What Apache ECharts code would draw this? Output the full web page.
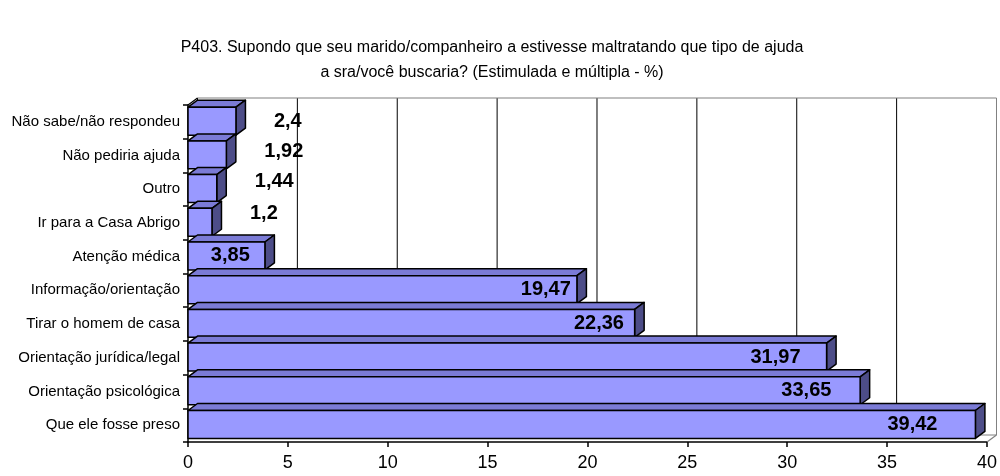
<!DOCTYPE html>
<html>
<head>
<meta charset="utf-8">
<script src="https://cdn.jsdelivr.net/npm/echarts@6/dist/echarts.min.js"></script>
<style>
  html, body { margin: 0; padding: 0; background: #fff; }
  #chart { width: 1000px; height: 476px; }
</style>
</head>
<body>
<div id="chart"></div>
<script>
const categories = [
  'Não sabe/não respondeu',
  'Não pediria ajuda',
  'Outro',
  'Ir para a Casa Abrigo',
  'Atenção médica',
  'Informação/orientação',
  'Tirar o homem de casa',
  'Orientação jurídica/legal',
  'Orientação psicológica',
  'Que ele fosse preso'
]
const values = [2.4, 1.92, 1.44, 1.2, 3.85, 19.47, 22.36, 31.97, 33.65, 39.42]
const xTicks = [0, 5, 10, 15, 20, 25, 30, 35, 40]

const FONT = '"Liberation Sans", Arial, sans-serif'
// 3d depth of the bars / back wall
const DX = 9.5
const DY = 7

const chart = echarts.init(document.getElementById('chart'))

function renderFrame(params, api) {
  const cs = params.coordSys
  const x0 = cs.x, y0 = cs.y, x1 = cs.x + cs.width, y1 = cs.y + cs.height
  const children = []
  // back wall gridlines
  xTicks.forEach(function (t) {
    const x = api.coord([t, 0])[0] + DX
    children.push({
      type: 'line',
      shape: { x1: x, y1: y0 - DY, x2: x, y2: y1 - DY },
      style: { stroke: t === 40 ? '#808080' : '#000', lineWidth: 1 }
    })
  })
  // wall top and floor back edge
  children.push({ type: 'line', shape: { x1: x0 + DX, y1: y0 - DY, x2: x1 + DX, y2: y0 - DY }, style: { stroke: '#808080', lineWidth: 1.2 } })
  children.push({ type: 'line', shape: { x1: x0 + DX, y1: y1 - DY, x2: x1 + DX, y2: y1 - DY }, style: { stroke: '#808080', lineWidth: 1 } })
  // corners
  children.push({ type: 'line', shape: { x1: x0, y1: y0, x2: x0 + DX, y2: y0 - DY }, style: { stroke: '#000', lineWidth: 1.2 } })
  children.push({ type: 'line', shape: { x1: x1, y1: y1, x2: x1 + DX, y2: y1 - DY }, style: { stroke: '#808080', lineWidth: 1.2 } })
  return { type: 'group', children: children }
}

function renderBar(params, api) {
  const v = api.value(0)
  const idx = api.value(1)
  const start = api.coord([0, idx])
  const end = api.coord([v, idx])
  const band = api.size([0, 1])[1]
  const h = band * 0.83
  const yc = start[1] - band * 0.02
  const top = yc - h / 2
  const bot = yc + h / 2
  const xs = start[0]
  const xe = end[0]
  const stroke = { stroke: '#000', lineWidth: 1.5, lineJoin: 'round' }

  // label placement like the original
  let lx, ly = yc, align
  if (v >= 10) {
    lx = xs + (xe - xs) * 0.92
    align = 'center'
  } else if (v >= 3) {
    lx = xs + (xe - xs) * 0.55
    align = 'center'
  } else {
    // short bars: label sits to the right, drifting upwards a bit
    lx = xe + 38
    ly = yc - (2.4 - v) * 7
    align = 'left'
  }
  const label = String(v).replace('.', ',')

  return {
    type: 'group',
    children: [
      {
        type: 'polygon',
        shape: { points: [[xs, top], [xs + DX, top - DY], [xe + DX, top - DY], [xe, top]] },
        style: Object.assign({ fill: '#7b7bd6' }, stroke)
      },
      {
        type: 'polygon',
        shape: { points: [[xe, top], [xe + DX, top - DY], [xe + DX, bot - DY], [xe, bot]] },
        style: Object.assign({ fill: '#4d4d88' }, stroke)
      },
      {
        type: 'rect',
        shape: { x: xs, y: top, width: xe - xs, height: h },
        style: Object.assign({ fill: '#9999ff' }, stroke)
      },
      {
        type: 'text',
        z2: 10,
        style: {
          text: label,
          x: lx,
          y: ly,
          align: align,
          verticalAlign: 'middle',
          fill: '#000',
          fontSize: 20,
          fontWeight: 'bold',
          fontFamily: FONT
        }
      }
    ]
  }
}

const option = {
  animation: false,
  backgroundColor: '#fff',
  title: {
    text: 'P403. Supondo que seu marido/companheiro a estivesse maltratando que tipo de ajuda\na sra/você buscaria? (Estimulada e múltipla - %)',
    left: 492,
    top: 35,
    padding: 0,
    textAlign: 'center',
    textStyle: {
      fontSize: 16,
      fontWeight: 'normal',
      color: '#000',
      lineHeight: 25,
      fontFamily: FONT
    }
  },
  grid: {
    left: 188,
    right: 12,
    top: 105,
    bottom: 34,
    containLabel: false
  },
  xAxis: {
    type: 'value',
    min: 0,
    max: 40,
    interval: 5,
    axisLine: { show: true, lineStyle: { color: '#000', width: 1.5 } },
    axisTick: { show: true, length: 5, lineStyle: { color: '#000', width: 1.5 } },
    splitLine: { show: false },
    axisLabel: { color: '#000', fontSize: 18, margin: 12, fontFamily: FONT }
  },
  yAxis: {
    type: 'category',
    inverse: true,
    data: categories,
    axisLine: { show: true, lineStyle: { color: '#000', width: 1.5 } },
    axisTick: { show: true, length: 5, lineStyle: { color: '#000', width: 1.5 } },
    axisLabel: { color: '#000', fontSize: 15, margin: 8, fontFamily: FONT }
  },
  series: [
    {
      name: 'frame',
      type: 'custom',
      z: 1,
      silent: true,
      clip: false,
      renderItem: renderFrame,
      encode: { x: 0, y: 1 },
      data: [[0, 0]]
    },
    {
      name: 'P403',
      type: 'custom',
      z: 3,
      clip: false,
      renderItem: renderBar,
      encode: { x: 0, y: 1 },
      data: values.map(function (v, i) { return [v, i] })
    }
  ]
}

chart.setOption(option)
</script>
</body>
</html>
